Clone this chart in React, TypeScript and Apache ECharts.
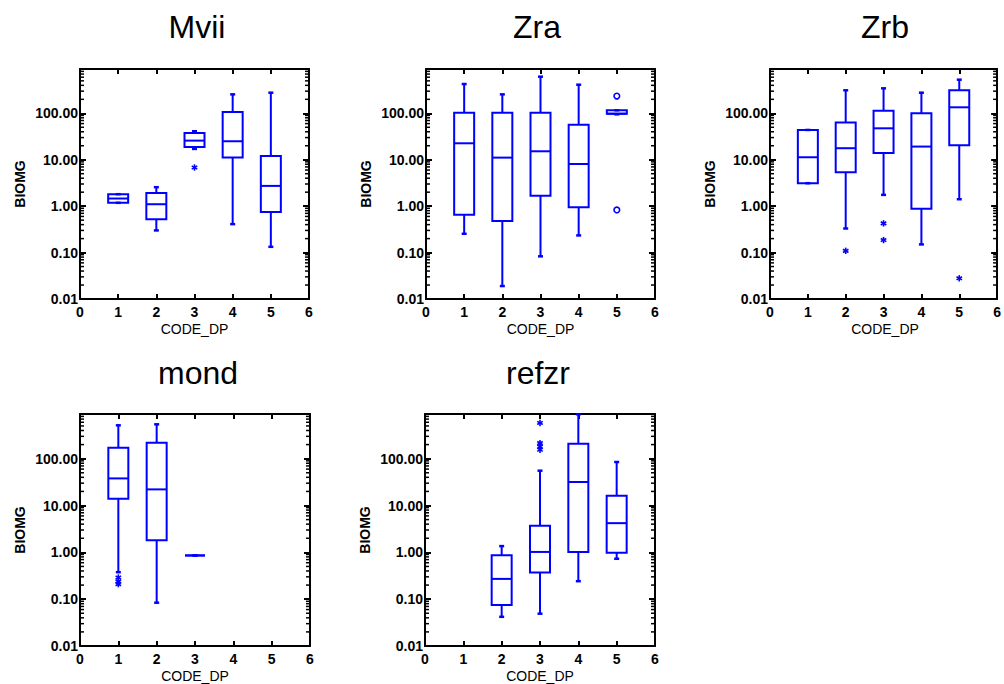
import React, { useEffect, useRef } from "react";
import * as echarts from "echarts";

// ---- data: [CODE_DP, whiskerLow, Q1, median, Q3, whiskerHigh] ----
const panelTitles = ["Mvii", "Zra", "Zrb", "mond", "refzr"];
const xTicks = [0, 1, 2, 3, 4, 5, 6];
const yTickLabels = ["0.01", "0.10", "1.00", "10.00", "100.00"];

const mviiBoxes = [
  [1, 1.18, 1.18, 1.46, 1.81, 1.81],
  [2, 0.3, 0.52, 1.1, 1.93, 2.56],
  [3, 17.1, 18.9, 25.8, 37.8, 41],
  [4, 0.41, 11.1, 25, 107, 256],
  [5, 0.133, 0.75, 2.73, 12.1, 278],
];
const mviiStars = [[3, 6.8]];
const mviiCircles: number[][] = [];

const zraBoxes = [
  [1, 0.254, 0.65, 22.6, 103, 427],
  [2, 0.019, 0.48, 11.1, 103, 256],
  [3, 0.083, 1.67, 15.2, 103, 615],
  [4, 0.234, 0.95, 8.1, 57, 413],
  [5, 95, 98, 98, 116, 116],
];
const zraStars: number[][] = [];
const zraCircles = [[5, 235], [5, 0.83]];

const zrbBoxes = [
  [1, 3.12, 3.12, 11.3, 43.8, 43.8],
  [2, 0.33, 5.4, 17.7, 63, 313],
  [3, 1.75, 14, 47.5, 114, 345],
  [4, 0.15, 0.88, 19.2, 100, 278],
  [5, 1.41, 20.5, 134.6, 313, 530],
];
const zrbStars = [[2, 0.109], [3, 0.425], [3, 0.186], [5, 0.0279]];
const zrbCircles: number[][] = [];

const mondBoxes = [
  [1, 0.377, 13.9, 37.9, 172, 516],
  [2, 0.084, 1.82, 22.1, 220, 542],
  [3, 0.86, 0.86, 0.86, 0.86, 0.86],
];
const mondStars = [[1, 0.29], [1, 0.24], [1, 0.21]];
const mondCircles: number[][] = [];

const refzrBoxes = [
  [2, 0.042, 0.075, 0.271, 0.87, 1.36],
  [3, 0.049, 0.37, 1.02, 3.69, 55.4],
  [4, 0.242, 1.02, 31.8, 209, 888],
  [5, 0.73, 0.975, 4.2, 16.2, 85],
];
const refzrStars = [[3, 580], [3, 215], [3, 180], [3, 155]];
const refzrCircles: number[][] = [];

const panelBoxes = [mviiBoxes, zraBoxes, zrbBoxes, mondBoxes, refzrBoxes];
const panelStars = [mviiStars, zraStars, zrbStars, mondStars, refzrStars];
const panelCircles = [mviiCircles, zraCircles, zrbCircles, mondCircles, refzrCircles];

const Y_MIN = 0.01;
const Y_MAX = 900;
const X_MIN = 0;
const X_MAX = 6;

// ---- layout ----
const LAYOUT = [
  { left: 80, top: 69, width: 229, height: 230, titleX: 197, titleY: 27 },
  { left: 426, top: 69, width: 229, height: 230, titleX: 537, titleY: 27 },
  { left: 770, top: 69, width: 230, height: 230, titleX: 885, titleY: 27 },
  { left: 80, top: 414, width: 230, height: 232, titleX: 198, titleY: 373 },
  { left: 425, top: 414, width: 230, height: 232, titleX: 538, titleY: 373 },
];

const BLUE = "#0000ff";
const BLACK = "#000000";
const FONT = "'Liberation Sans', Arial, Helvetica, sans-serif";
const BOX_HALF = 10;
const CAP_HALF = 2.5;

function minorTickValues(): number[][] {
  const out: number[][] = [];
  for (let e = -2; e <= 2; e++) {
    for (let k = 2; k <= 9; k++) {
      const v = k * Math.pow(10, e);
      if (v > Y_MIN && v < Y_MAX) out.push([X_MIN, v]);
    }
  }
  return out;
}

function boxRender(params: any, api: any) {
  const x = api.value(0);
  const lo = api.coord([x, api.value(1)]);
  const q1 = api.coord([x, api.value(2)]);
  const md = api.coord([x, api.value(3)]);
  const q3 = api.coord([x, api.value(4)]);
  const hi = api.coord([x, api.value(5)]);
  const cx = md[0];
  const st = { stroke: BLUE, lineWidth: 2, fill: "none" };
  return {
    type: "group",
    children: [
      { type: "line", shape: { x1: cx, y1: q3[1], x2: cx, y2: hi[1] }, style: st },
      { type: "line", shape: { x1: cx, y1: q1[1], x2: cx, y2: lo[1] }, style: st },
      { type: "line", shape: { x1: cx - CAP_HALF, y1: hi[1], x2: cx + CAP_HALF, y2: hi[1] }, style: { stroke: BLUE, lineWidth: 2.5 } },
      { type: "line", shape: { x1: cx - CAP_HALF, y1: lo[1], x2: cx + CAP_HALF, y2: lo[1] }, style: { stroke: BLUE, lineWidth: 2.5 } },
      {
        type: "rect",
        shape: { x: cx - BOX_HALF, y: q3[1], width: BOX_HALF * 2, height: q1[1] - q3[1] },
        style: st,
      },
      { type: "line", shape: { x1: cx - BOX_HALF, y1: md[1], x2: cx + BOX_HALF, y2: md[1] }, style: st },
    ],
  };
}

function starRender(params: any, api: any) {
  const p = api.coord([api.value(0), api.value(1)]);
  const r = 3.2;
  const dx = r * Math.cos(Math.PI / 6);
  const dy = r * Math.sin(Math.PI / 6);
  const st = { stroke: BLUE, lineWidth: 1.6 };
  return {
    type: "group",
    children: [
      { type: "line", shape: { x1: p[0], y1: p[1] - r, x2: p[0], y2: p[1] + r }, style: st },
      { type: "line", shape: { x1: p[0] - dx, y1: p[1] - dy, x2: p[0] + dx, y2: p[1] + dy }, style: st },
      { type: "line", shape: { x1: p[0] - dx, y1: p[1] + dy, x2: p[0] + dx, y2: p[1] - dy }, style: st },
    ],
  };
}

function circleRender(params: any, api: any) {
  const p = api.coord([api.value(0), api.value(1)]);
  return {
    type: "circle",
    shape: { cx: p[0], cy: p[1], r: 2.8 },
    style: { stroke: BLUE, lineWidth: 1.6, fill: "none" },
  };
}

function minorRender(params: any, api: any) {
  const v = api.value(1);
  const l = api.coord([X_MIN, v]);
  const r = api.coord([X_MAX, v]);
  const st = { stroke: BLACK, lineWidth: 1.5 };
  return {
    type: "group",
    children: [
      { type: "line", shape: { x1: l[0], y1: l[1], x2: l[0] + 4, y2: l[1] }, style: st },
      { type: "line", shape: { x1: r[0], y1: r[1], x2: r[0] - 4, y2: r[1] }, style: st },
    ],
  };
}

function buildOption() {
  const grid: any[] = [];
  const xAxis: any[] = [];
  const yAxis: any[] = [];
  const series: any[] = [];
  const graphic: any[] = [];
  const axisLine = { onZero: false, lineStyle: { color: BLACK, width: 2 } };

  LAYOUT.forEach((g, i) => {
    grid.push({ left: g.left, top: g.top, width: g.width, height: g.height, containLabel: false });
    const base = {
      type: "value",
      gridIndex: i,
      min: xTicks[0],
      max: xTicks[xTicks.length - 1],
      interval: 1,
      axisLine,
      axisTick: { inside: true, length: 5, lineStyle: { color: BLACK, width: 2 } },
      splitLine: { show: false },
    };
    xAxis.push({
      ...base,
      position: "bottom",
      axisLabel: { color: BLACK, fontFamily: FONT, fontWeight: "bold", fontSize: 14, margin: 6 },
    });
    xAxis.push({ ...base, position: "top", axisLabel: { show: false } });
    const ybase = {
      type: "log",
      logBase: 10,
      gridIndex: i,
      min: Y_MIN,
      max: Y_MAX,
      axisLine,
      axisTick: { inside: true, length: 6, lineStyle: { color: BLACK, width: 2 } },
      splitLine: { show: false },
    };
    yAxis.push({
      ...ybase,
      position: "left",
      axisLabel: {
        color: BLACK,
        fontFamily: FONT,
        fontWeight: "bold",
        fontSize: 14,
        margin: 2,
        formatter: (v: number) => {
          const s = v.toFixed(2);
          return yTickLabels.indexOf(s) >= 0 ? s : "";
        },
      },
    });
    yAxis.push({ ...ybase, position: "right", axisLabel: { show: false } });

    const xi = i * 2;
    const yi = i * 2;
    series.push({
      type: "custom",
      xAxisIndex: xi,
      yAxisIndex: yi,
      silent: true,
      renderItem: minorRender,
      data: minorTickValues(),
      encode: { x: 0, y: 1 },
    });
    series.push({
      type: "custom",
      xAxisIndex: xi,
      yAxisIndex: yi,
      renderItem: boxRender,
      data: panelBoxes[i],
      encode: { x: 0, y: [1, 2, 3, 4, 5] },
    });
    if (panelStars[i].length) {
      series.push({
        type: "custom",
        xAxisIndex: xi,
        yAxisIndex: yi,
        renderItem: starRender,
        data: panelStars[i],
        encode: { x: 0, y: 1 },
      });
    }
    if (panelCircles[i].length) {
      series.push({
        type: "custom",
        xAxisIndex: xi,
        yAxisIndex: yi,
        renderItem: circleRender,
        data: panelCircles[i],
        encode: { x: 0, y: 1 },
      });
    }

    graphic.push({
      type: "text",
      x: g.titleX,
      y: g.titleY,
      style: {
        text: panelTitles[i],
        font: `32px ${FONT}`,
        fill: BLACK,
        textAlign: "center",
        textVerticalAlign: "middle",
      },
    });
    graphic.push({
      type: "text",
      x: g.left - 60,
      y: g.top + g.height / 2,
      rotation: Math.PI / 2,
      style: {
        text: "BIOMG",
        font: `bold 14px ${FONT}`,
        fill: BLACK,
        textAlign: "center",
        textVerticalAlign: "middle",
      },
    });
    graphic.push({
      type: "text",
      x: g.left + g.width / 2,
      y: g.top + g.height + 30,
      style: {
        text: "CODE_DP",
        font: `14px ${FONT}`,
        fill: BLACK,
        textAlign: "center",
        textVerticalAlign: "middle",
      },
    });
  });

  return { animation: false, backgroundColor: "#ffffff", grid, xAxis, yAxis, series, graphic };
}

export default function App() {
  const ref = useRef<HTMLDivElement>(null);
  useEffect(() => {
    if (!ref.current) return;
    const chart = echarts.init(ref.current, undefined, { renderer: "svg" });
    chart.setOption(buildOption() as any);
    return () => chart.dispose();
  }, []);
  return (
    <div
      ref={ref}
      style={{ position: "absolute", left: 0, top: 0, width: 1004, height: 684, background: "#fff" }}
    />
  );
}
